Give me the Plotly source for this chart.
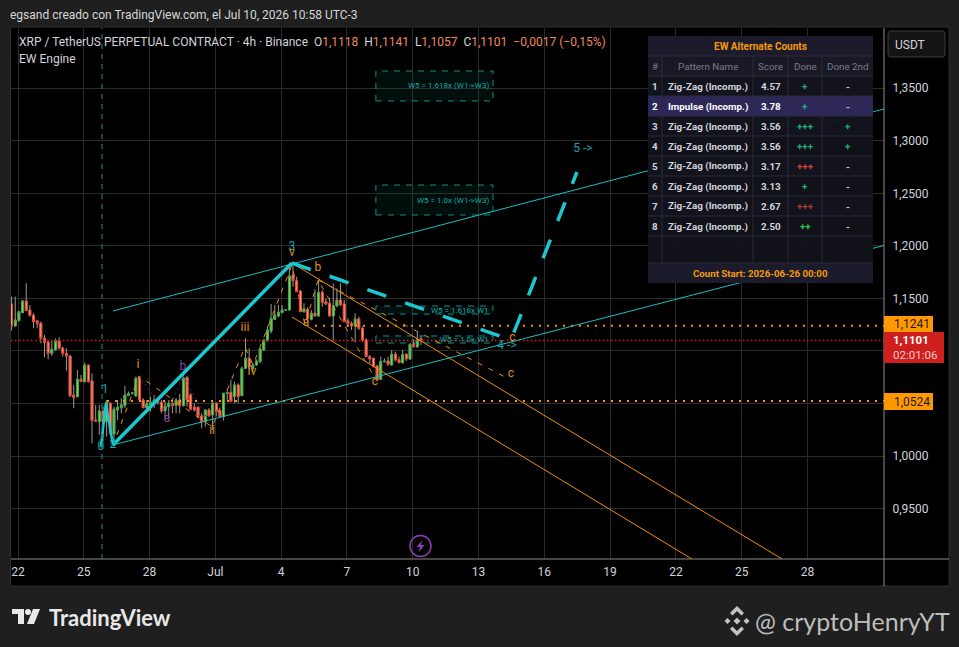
import pandas as pd
import plotly.graph_objects as go

# ---------- data ----------
candle_start = "2026-06-21 17:00"
opens = [1.1447,1.1238,1.1289,1.1365,1.1476,1.1390,1.1340,1.1286,1.1264,1.1121,1.1083,1.0978,1.1010,1.1099,1.1026,1.0978,1.0953,1.0582,1.0566,1.0731,1.0709,1.0867,1.0715,1.0344,1.0328,1.0427,1.0328,1.0503,1.0211,1.0439,1.0461,1.0481,1.0576,1.0598,1.0573,1.0741,1.0534,1.0458,1.0490,1.0497,1.0528,1.0509,1.0430,1.0471,1.0503,1.0481,1.0534,1.0481,1.0750,1.0582,1.0465,1.0465,1.0382,1.0328,1.0439,1.0392,1.0503,1.0433,1.0376,1.0595,1.0607,1.0566,1.0677,
 1.0575,1.0835,1.0931,1.0835,1.0867,1.0899,1.1010,1.1099,1.1190,1.1301,1.1333,1.1365,1.1390,1.1390,1.1723,1.1669,1.1571,1.1374,1.1397,1.1301,1.1359,1.1333,1.1558,1.1469,1.1454,1.1333,1.1428,1.1485,1.1447,1.1286,1.1263,1.1238,1.1305,1.1216,1.1105,1.0946,1.0931,1.0858,1.0731,1.0899,1.0905,1.0867,1.0969,1.0919,1.0889,1.0969,1.0924,1.1064,1.1041,1.1118]
highs = [1.1517,1.1517,1.1380,1.1485,1.1644,1.1438,1.1359,1.1295,1.1279,1.1153,1.1105,1.1105,1.1121,1.1130,1.1042,1.1026,1.0953,1.0677,1.0820,1.0772,1.0890,1.0867,1.0788,1.0487,1.0487,1.0471,1.0534,1.0509,1.0471,1.0534,1.0550,1.0668,1.0614,1.0610,1.0756,1.0763,1.0550,1.0534,1.0566,1.0582,1.0550,1.0534,1.0519,1.0534,1.0550,1.0550,1.0592,1.0804,1.0756,1.0598,1.0503,1.0471,1.0408,1.0446,1.0455,1.0519,1.0509,1.0446,1.0598,1.0636,1.0725,1.0708,1.0692,
 1.0851,1.1121,1.1025,1.0885,1.0920,1.1030,1.1115,1.1238,1.1447,1.1438,1.1438,1.1438,1.1400,1.1796,1.1834,1.1707,1.1580,1.1454,1.1416,1.1390,1.1587,1.1676,1.1580,1.1501,1.1501,1.1644,1.1596,1.1644,1.1485,1.1311,1.1279,1.1359,1.1327,1.1232,1.1121,1.0962,1.0931,1.0867,1.0946,1.0930,1.0946,1.1010,1.0994,1.0946,1.1010,1.0978,1.1073,1.1111,1.1184,1.1141]
lows = [1.1194,1.1232,1.1280,1.1359,1.1384,1.1327,1.1216,1.1216,1.1073,1.0940,1.0921,1.0953,1.1004,1.1016,1.0947,1.0813,1.0566,1.0455,1.0560,1.0709,1.0699,1.0699,1.0122,1.0325,1.0202,1.0138,1.0186,1.0202,1.0091,1.0344,1.0408,1.0455,1.0573,1.0585,1.0566,1.0528,1.0455,1.0439,1.0424,1.0455,1.0490,1.0408,1.0344,1.0360,1.0408,1.0408,1.0408,1.0471,1.0471,1.0439,1.0424,1.0360,1.0265,1.0281,1.0376,1.0249,1.0376,1.0360,1.0338,1.0534,1.0519,1.0503,1.0503,
 1.0572,1.0835,1.0820,1.0800,1.0860,1.0885,1.1000,1.1090,1.1168,1.1295,1.1320,1.1360,1.1385,1.1390,1.1612,1.1565,1.1374,1.1365,1.1279,1.1290,1.1327,1.1327,1.1422,1.1440,1.1327,1.1099,1.1420,1.1430,1.1279,1.1250,1.1200,1.1080,1.1200,1.1089,1.0946,1.0883,1.0845,1.0715,1.0725,1.0890,1.0860,1.0860,1.0900,1.0885,1.0880,1.0905,1.0915,1.1035,1.1030,1.1057]
closes = [1.1238,1.1295,1.1375,1.1476,1.1384,1.1337,1.1279,1.1264,1.1121,1.1080,1.0978,1.1016,1.1099,1.1023,1.0978,1.0953,1.0573,1.0557,1.0731,1.0709,1.0867,1.0709,1.0338,1.0335,1.0430,1.0328,1.0512,1.0218,1.0446,1.0465,1.0487,1.0582,1.0595,1.0602,1.0741,1.0534,1.0461,1.0497,1.0509,1.0534,1.0509,1.0430,1.0477,1.0503,1.0481,1.0534,1.0481,1.0741,1.0534,1.0446,1.0439,1.0376,1.0328,1.0439,1.0382,1.0503,1.0424,1.0376,1.0598,1.0604,1.0519,1.0677,1.0566,
 1.0835,1.0931,1.0845,1.0867,1.0905,1.1019,1.1105,1.1200,1.1311,1.1343,1.1368,1.1390,1.1394,1.1714,1.1669,1.1565,1.1374,1.1400,1.1311,1.1359,1.1333,1.1558,1.1460,1.1447,1.1333,1.1431,1.1485,1.1438,1.1279,1.1263,1.1238,1.1305,1.1216,1.1105,1.0946,1.0924,1.0851,1.0725,1.0899,1.0902,1.0874,1.0969,1.0915,1.0889,1.0969,1.0924,1.1064,1.1041,1.1111,1.1101]

price_ticks = [0.95,1.00,1.05,1.10,1.15,1.20,1.25,1.30,1.35]
price_tick_text = ["0,9500","1,0000","","","1,1500","1,2000","1,2500","1,3000","1,3500"]
date_tick_days = [0,3,6,9,12,15,18,21,24,27,30,33,36]
date_tick_text = ["22","25","28","Jul","4","7","10","13","16","19","22","25","28"]

channel_up_days, channel_up_px = [4.33,39.49],[1.1381,1.3303]
channel_lo_days, channel_lo_px = [4.33,39.49],[1.0106,1.2004]
wave1_days, wave1_px = [3.78,4.01,4.33],[1.0087,1.0505,1.0106]
wave3_days, wave3_px = [4.33,12.49],[1.0106,1.1837]
proj_days, proj_px = [12.49,22.48,25.49],[1.1837,1.1105,1.2703]
fork1_days, fork1_px = [12.49,34.84],[1.1837,0.9021]
fork2_days, fork2_px = [12.49,30.73],[1.1324,0.9021]
sub_days, sub_px = [4.51,5.52,8.85,10.35,10.72,12.49,13.09,13.68,16.28],[1.0201,1.0762,1.0277,1.1038,1.0867,1.1818,1.1247,1.1676,1.0743]
sub2_days, sub2_px = [13.68,22.30],[1.1676,1.0743]
alt_days, alt_px = [5.52,6.79,7.52,8.85],[1.0762,1.0391,1.0762,1.0277]

resistance, support, last_price = 1.1241, 1.0524, 1.1101
res_start, sup_start, count_start = 13.54, 4.06, 3.83
x_left, x_right = -0.319, 39.49
y_low, y_high = 0.9021, 1.4073

teal_labels = ["0","1","2","3","4 ->","5 ->"]
teal_days = [3.78,3.97,4.33,12.49,22.30,25.76]
teal_px = [1.0087,1.0629,1.0106,1.1990,1.1048,1.2922]
orange_labels = ["i","ii","iii","iv","v","a","b","c","c","c"]
orange_days = [5.47,8.85,10.35,10.67,12.49,13.13,13.68,16.28,22.55,22.48]
orange_px = [1.0867,1.0239,1.1219,1.0800,1.1932,1.1266,1.1790,1.0705,1.1124,1.0781]
purple_labels = ["b","a"]
purple_days = [7.52,6.79]
purple_px = [1.0848,1.0353]

box_text = ["W5 = 1.618x (W1->W3)","W5 = 1.0x (W1->W3)","W5 = 1.618x W1","W5 = 1.0x W1"]
box_top = [1.3664,1.2579,1.1428,1.1143]
box_bot = [1.3379,1.2294,1.1352,1.1076]
box_left, box_right = 16.32, 21.66

row_no = ["1","2","3","4","5","6","7","8"]
row_name = ["Zig-Zag (Incomp.)","Impulse (Incomp.)"]+["Zig-Zag (Incomp.)"]*6
row_score = ["4.57","3.78","3.56","3.56","3.17","3.13","2.67","2.50"]
row_done = ["+","+","+++","+++","+++","+","+++","++"]
row_done_col = ["#1fae7a","#1fae7a","#1fae7a","#1fae7a","#d2452f","#1fae7a","#a8402c","#2fc44a"]
row_2nd = ["-","-","+","+","-","-","-","-"]

# ---------- helpers ----------
PL, PR, PT, PB = 11, 884, 28, 559
W, H = 959, 647
BASE = pd.Timestamp("2026-06-22")
def d(v): return (BASE + pd.to_timedelta(v, "D")).strftime("%Y-%m-%d %H:%M:%S")
def ds(vs): return [d(v) for v in vs]
def px(x): return (x-PL)/(PR-PL)
def py(y): return (PB-y)/(PB-PT)

shapes, annots = [], []
def rect(x0,y0,x1,y1,fill,line=None,lw=1,layer="above",opacity=None,dash=None):
    s = dict(type="rect",xref="paper",yref="paper",x0=px(x0),x1=px(x1),y0=py(y0),y1=py(y1),
             fillcolor=fill,layer=layer,line=dict(width=lw if line else 0,color=line or "rgba(0,0,0,0)"))
    if opacity is not None: s["opacity"]=opacity
    shapes.append(s)
def seg(x0,y0,x1,y1,color,lw=1,layer="above"):
    shapes.append(dict(type="line",xref="paper",yref="paper",x0=px(x0),x1=px(x1),y0=py(y0),y1=py(y1),
                       layer=layer,line=dict(color=color,width=lw)))
def poly(points,fill,line=None,lw=1):
    path = "M "+" L ".join(f"{px(a):.5f},{py(b):.5f}" for a,b in points)+" Z"
    shapes.append(dict(type="path",xref="paper",yref="paper",path=path,fillcolor=fill,layer="above",
                       line=dict(width=lw if line else 0,color=line or "rgba(0,0,0,0)")))
def text(x,y,t,size,color,anchor="center",family="Roboto"):
    annots.append(dict(xref="paper",yref="paper",x=px(x),y=py(y),text=t,showarrow=False,xanchor=anchor,
                       yanchor="middle",borderpad=0,font=dict(size=size,color=color,family=family)))

# ---------- frame ----------
rect(10.5,27,949,586,"#000000","#2e2e2e",1,layer="below")
GRID = "#2b2b2b"
AX = "#8c8c8c"

# target boxes (data coordinates)
for t,top,bot in zip(box_text,box_top,box_bot):
    shapes.append(dict(type="rect",xref="x",yref="y",x0=d(box_left),x1=d(box_right),y0=bot,y1=top,layer="between",
                       fillcolor="rgba(0,150,136,0.09)",line=dict(color="#0e8f8f",width=1,dash="6px,6px")))
    annots.append(dict(xref="x",yref="y",x=d(box_right-0.12),y=(top+bot)/2,text=t,showarrow=False,xanchor="right",
                       yanchor="middle",borderpad=0,font=dict(size=8,color="#12a8a8",family="Roboto")))

seg(PL,PB,949,PB,AX)
seg(PR,PT,PR,586,AX)

# ---------- table ----------
TX0,TX1 = 648,873
cols = [648,662,753,788,822,873]
tops = [36,56,76,96,116,136,156,176,196,216,236,263,283]
TLINE = "#2a2a3a"
rect(TX0,36,TX1,56,"rgba(28,28,44,0.97)")
rect(TX0,56,TX1,76,"rgba(26,26,38,0.97)")
for i in range(8):
    fill = "rgba(45,40,88,1)" if i==1 else ("rgba(20,20,30,0.96)" if i%2==0 else "rgba(18,18,26,0.96)")
    rect(TX0,tops[i+2],TX1,tops[i+3],fill)
rect(TX0,236,TX1,263,"rgba(18,18,26,0.96)")
rect(TX0,263,TX1,283,"rgba(28,28,44,0.97)")
for yy in tops[1:-1]:
    seg(TX0,yy,TX1,yy,TLINE)
for xx in cols[1:-1]:
    seg(xx,56,xx,263,TLINE)
FS = 9.8
text(760.5,46,"<b>EW Alternate Counts</b>",10,"#f59a0c")
for lab,a,b in zip(["#","Pattern Name","Score","Done","Done 2nd"],cols[:-1],cols[1:]):
    text((a+b)/2,66.5,lab,FS,"#787b86")
for i in range(8):
    yc = (tops[i+2]+tops[i+3])/2+0.5
    c = "#ffffff" if i==1 else "#d1d4dc"
    text(655,yc,f"<b>{row_no[i]}</b>",FS,c)
    text(707.5,yc,f"<b>{row_name[i]}</b>",FS,c)
    text(770.5,yc,f"<b>{row_score[i]}</b>",FS,c)
    text(805,yc,f"<b>{row_done[i]}</b>",FS,row_done_col[i])
    col2 = "#1fae7a" if row_2nd[i]=="+" else "#d1d4dc"
    text(847.5,yc,f"<b>{row_2nd[i]}</b>",FS,col2)
text(760.5,273.5,"<b>Count Start: 2026-06-26 00:00</b>",9.7,"#f59a0c")

# ---------- price tags ----------
rect(884,316,933,333,"#ff9800")
rect(884,393,933,410,"#ff9800")
rect(884,332,944,363,"#cf1f1c")
text(892.5,324.5,"1,1241",12,"#1a1a1a","left")
text(892.5,401.5,"1,0524",12,"#1a1a1a","left")
text(892,340,"<b>1,1101</b>",11.5,"#ffffff","left")
text(892,354.5,"02:01:06",11.5,"#f6c9c9","left")

# ---------- USDT button ----------
shapes.append(dict(type="path",xref="paper",yref="paper",layer="above",fillcolor="#141414",line=dict(color="#3a3a3a",width=1),
    path=f"M {px(891)},{py(31)} L {px(942)},{py(31)} Q {px(945)},{py(31)} {px(945)},{py(34)} L {px(945)},{py(54)} Q {px(945)},{py(57)} {px(942)},{py(57)} "
         f"L {px(891)},{py(57)} Q {px(888)},{py(57)} {px(888)},{py(54)} L {px(888)},{py(34)} Q {px(888)},{py(31)} {px(891)},{py(31)} Z"))
text(910,44.5,"USDT",12,"#d1d4dc")

# ---------- header / legend ----------
text(9,15,"egsand creado con TradingView.com, el Jul 10, 2026 10:58 UTC-3",12,"#d6d6d6","left")
val = "#f08a5d"
hdr = ("XRP / TetherUS PERPETUAL CONTRACT · 4h · Binance"
       f"  O<span style='color:{val}'>1,1118</span>  H<span style='color:{val}'>1,1141</span>"
       f"  L<span style='color:{val}'>1,1057</span>  C<span style='color:{val}'>1,1101</span>"
       f"  <span style='color:{val}'>−0,0017 (−0,15%)</span>")
text(18,42,hdr,12,"#d1d4dc","left")
text(18,59,"EW Engine",12,"#d1d4dc","left")

# ---------- lightning badge ----------
shapes.append(dict(type="circle",xref="paper",yref="paper",x0=px(410),x1=px(431),y0=py(535.5),y1=py(556.5),
                   layer="above",fillcolor="rgba(0,0,0,0)",line=dict(color="#8e3bb0",width=1.5)))
poly([(422.5,540),(416.5,547),(420,547),(418.5,552.5),(424.5,545),(421,545)],"#8e3bb0")

# ---------- footer ----------
rect(12,609,24,614,"#e8e8e8"); rect(18,614,24,624,"#e8e8e8")
shapes.append(dict(type="circle",xref="paper",yref="paper",x0=px(25),x1=px(31),y0=py(609),y1=py(615),layer="above",
                   fillcolor="#e8e8e8",line=dict(width=0)))
poly([(33,609),(40,609),(34,624),(27,624)],"#e8e8e8")
text(48,617,"<b>TradingView</b>",22,"#e8e8e8","left","Lato")
ic = "#c4c4c4"; cx, cy = 737, 621
poly([(cx,cy-15),(cx+7,cy-8),(cx+4.5,cy-5.5),(cx,cy-10),(cx-4.5,cy-5.5),(cx-7,cy-8)],ic)
poly([(cx,cy+15),(cx+7,cy+8),(cx+4.5,cy+5.5),(cx,cy+10),(cx-4.5,cy+5.5),(cx-7,cy+8)],ic)
poly([(cx-12.5,cy),(cx-9.5,cy-3),(cx-6.5,cy),(cx-9.5,cy+3)],ic)
poly([(cx+12.5,cy),(cx+9.5,cy-3),(cx+6.5,cy),(cx+9.5,cy+3)],ic)
poly([(cx,cy-3.5),(cx+3.5,cy),(cx,cy+3.5),(cx-3.5,cy)],ic)
text(951,621,"@ cryptoHenryYT",25,"#bdbdbd","right","Lato")

# ---------- traces ----------
times = pd.date_range(candle_start, periods=len(opens), freq="4h").strftime("%Y-%m-%d %H:%M:%S").tolist()
fig = go.Figure()

def line(xs,ys,color,width,dash="solid"):
    fig.add_trace(go.Scatter(x=ds(xs),y=ys,mode="lines",hoverinfo="skip",line=dict(color=color,width=width,dash=dash)))
def labels(xs,ys,ts,color,size=12):
    fig.add_trace(go.Scatter(x=ds(xs),y=ys,mode="text",text=ts,textposition="middle center",hoverinfo="skip",
                             textfont=dict(color=color,size=size,family="Roboto")))

line(wave1_days,wave1_px,"#1bc8d0",2.5)
fig.add_trace(go.Candlestick(x=times,open=opens,high=highs,low=lows,close=closes,whiskerwidth=0,hoverinfo="skip",
    increasing=dict(line=dict(color="#9a9a9a",width=1),fillcolor="#9a9a9a"),
    decreasing=dict(line=dict(color="#9a9a9a",width=1),fillcolor="#9a9a9a")))
body_hi = [max(a,b) for a,b in zip(opens,closes)]
body_lo = [min(a,b) for a,b in zip(opens,closes)]
fig.add_trace(go.Candlestick(x=times,open=opens,high=body_hi,low=body_lo,close=closes,whiskerwidth=0,hoverinfo="skip",
    increasing=dict(line=dict(color="#3fa53f",width=1),fillcolor="#86e35c"),
    decreasing=dict(line=dict(color="#ef3e2a",width=1),fillcolor="#ffb48c")))

line([count_start,count_start],[y_low,y_high],"#0e7f80",1.2,"5px,5px")
line([x_left,x_right],[last_price,last_price],"#f01010",1.5,"1.5px,2.5px")
line([res_start,x_right],[resistance,resistance],"#ff9800",2,"2px,6px")
line([sup_start,x_right],[support,support],"#ff9800",2,"2px,6px")
line(fork1_days,fork1_px,"#e8920c",1)
line(fork2_days,fork2_px,"#e8920c",1)
line(channel_up_days,channel_up_px,"#17bfc4",1)
line(channel_lo_days,channel_lo_px,"#17bfc4",1)
line(alt_days,alt_px,"#4a2a6a",1,"2px,3px")
line(sub_days,sub_px,"#e8920c",1,"5px,7px")
line(sub2_days,sub2_px,"#e8920c",1,"5px,7px")
line(wave3_days,wave3_px,"#1bc8d0",3.5)
line(proj_days,proj_px,"#1bc8d0",3.5,"20px,20px")
labels(teal_days,teal_px,teal_labels,"#12a6b0")
labels(orange_days,orange_px,orange_labels,"#e0900f")
labels(purple_days,purple_px,purple_labels,"#8a3fa8")

fig.update_layout(
    width=W,height=H,autosize=False,showlegend=False,boxmode="overlay",
    margin=dict(l=PL,r=W-PR,t=PT,b=H-PB,pad=0),
    paper_bgcolor="#1f1f1f",plot_bgcolor="#000000",
    font=dict(family="Roboto",color="#d1d4dc",size=12),
    shapes=shapes,annotations=annots,
    xaxis=dict(type="date",range=[d(x_left),d(x_right)],rangeslider=dict(visible=False),
               tickmode="array",tickvals=ds(date_tick_days),ticktext=date_tick_text,
               showgrid=True,gridcolor=GRID,gridwidth=1,zeroline=False,showline=False,
               ticks="outside",ticklen=2,tickcolor="rgba(0,0,0,0)",tickfont=dict(size=12,color="#d1d4dc")),
    yaxis=dict(side="right",range=[y_low,y_high],tickmode="array",tickvals=price_ticks,ticktext=price_tick_text,
               showgrid=True,gridcolor=GRID,gridwidth=1,zeroline=False,showline=False,
               ticks="outside",ticklen=5,tickcolor="rgba(0,0,0,0)",tickfont=dict(size=12,color="#d1d4dc")),
)
fig.write_html("out.html",config=dict(displayModeBar=False),
               post_script="document.body.style.margin='0';document.body.style.overflow='hidden';")
